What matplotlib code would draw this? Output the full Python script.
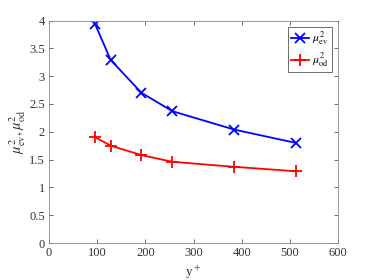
import matplotlib.pyplot as plt

plt.rcParams['font.family'] = ['Liberation Serif', 'DejaVu Serif']
plt.rcParams['mathtext.fontset'] = 'stix'

y_plus = [96, 128, 192, 256, 384, 512]
mu_ev = [3.93, 3.29, 2.70, 2.37, 2.04, 1.80]
mu_od = [1.90, 1.75, 1.58, 1.46, 1.37, 1.29]

fig = plt.figure(figsize=(3.74, 2.80), dpi=100)
ax = fig.add_axes([49 / 374, 1 - 243 / 280, (338 - 49) / 374, (243 - 20.5) / 280])

ax.plot(y_plus, mu_ev, color='#0000ff', lw=1.3, marker='x', ms=7, mew=1.3,
        label=r'$\mu^2_{\rm ev}$')
ax.plot(y_plus, mu_od, color='#ff0000', lw=1.3, marker='+', ms=8, mew=1.3,
        label=r'$\mu^2_{\rm od}$')

ax.set_xlim(0, 600)
ax.set_ylim(0, 4)
ax.set_xticks(range(0, 601, 100))
ax.set_yticks([0, 0.5, 1, 1.5, 2, 2.5, 3, 3.5, 4])
ax.set_yticklabels(['0', '0.5', '1', '1.5', '2', '2.5', '3', '3.5', '4'])
ax.tick_params(direction='in', top=True, right=True, labelsize=9,
               length=3, width=0.6, color='#555555', labelcolor='#333333', pad=3)
for s in ax.spines.values():
    s.set_color('#888888')
    s.set_linewidth(0.6)

ax.set_xlabel(r'y$^+$', fontsize=9.5, color='#333333', labelpad=3)
ax.set_ylabel(r'$\mu^2_{\rm ev},\mu^2_{\rm od}$', fontsize=10.5, color='#333333', labelpad=1)

leg = ax.legend(loc='upper right', fontsize=8.5, fancybox=False, framealpha=1,
                edgecolor='#555555', handlelength=1.6, borderpad=0.25,
                labelspacing=0.25, handletextpad=0.2, borderaxespad=0.55)
leg.get_frame().set_linewidth(0.6)

fig.savefig('out.png', dpi=100)
